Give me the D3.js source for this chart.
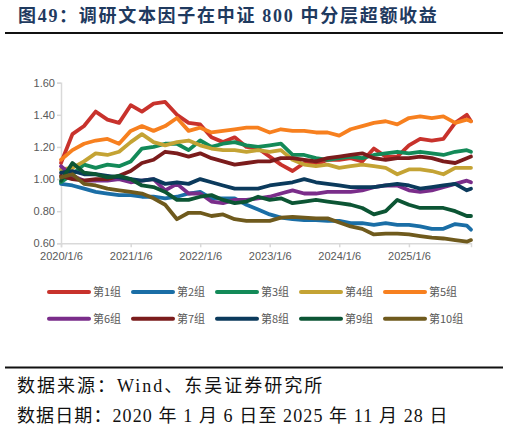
<!DOCTYPE html>
<html>
<head>
<meta charset="utf-8">
<script src="https://cdn.jsdelivr.net/npm/d3@7"></script>
<style>
  body { margin: 0; background: #fff; }
  svg { display: block; }
</style>
</head>
<body>
<svg id="chart" width="509" height="431"></svg>
<script>
// bi-monthly readings, last point is the end date
var dates = ["2020-01-06","2020-03-06","2020-05-06","2020-07-06","2020-09-06","2020-11-06",
  "2021-01-06","2021-03-06","2021-05-06","2021-07-06","2021-09-06","2021-11-06",
  "2022-01-06","2022-03-06","2022-05-06","2022-07-06","2022-09-06","2022-11-06",
  "2023-01-06","2023-03-06","2023-05-06","2023-07-06","2023-09-06","2023-11-06",
  "2024-01-06","2024-03-06","2024-05-06","2024-07-06","2024-09-06","2024-11-06",
  "2025-01-06","2025-03-06","2025-05-06","2025-07-06","2025-09-06","2025-11-06","2025-11-28"];

var groupNames = ["第1组","第2组","第3组","第4组","第5组","第6组","第7组","第8组","第9组","第10组"];
var groupColors = ["#c8322c","#1a6ea6","#138a58","#c4a334","#f7801f","#7a2d8a","#7b1c1c","#0b3a5c","#0c5534","#6f5a1d"];

var g1 = [1.10,1.28,1.33,1.42,1.37,1.35,1.46,1.42,1.47,1.48,1.40,1.35,1.34,1.26,1.23,1.26,1.20,1.19,
  1.14,1.09,1.05,1.10,1.09,1.12,1.12,1.13,1.11,1.19,1.14,1.14,1.21,1.25,1.24,1.25,1.35,1.40,1.36];
var g2 = [0.97,0.96,0.94,0.92,0.91,0.90,0.90,0.89,0.89,0.88,0.89,0.91,0.92,0.88,0.88,0.88,0.84,0.81,
  0.78,0.76,0.75,0.745,0.745,0.74,0.74,0.725,0.725,0.715,0.725,0.715,0.715,0.705,0.69,0.69,0.72,0.71,0.685];
var g3 = [0.98,1.03,1.09,1.07,1.09,1.08,1.11,1.19,1.20,1.22,1.22,1.18,1.24,1.20,1.22,1.23,1.21,1.20,
  1.21,1.22,1.15,1.15,1.13,1.12,1.13,1.14,1.13,1.15,1.16,1.17,1.16,1.17,1.16,1.15,1.17,1.18,1.17];
var g4 = [1.06,1.07,1.11,1.16,1.15,1.17,1.23,1.28,1.23,1.21,1.23,1.24,1.21,1.19,1.18,1.18,1.17,1.18,
  1.17,1.18,1.12,1.09,1.08,1.09,1.07,1.08,1.09,1.08,1.07,1.03,1.06,1.06,1.05,1.03,1.07,1.07,1.07];
var g5 = [1.12,1.18,1.22,1.24,1.25,1.22,1.30,1.33,1.30,1.33,1.38,1.30,1.32,1.29,1.30,1.31,1.32,1.32,
  1.29,1.31,1.30,1.30,1.29,1.29,1.27,1.31,1.33,1.35,1.36,1.34,1.38,1.39,1.38,1.39,1.35,1.37,1.36];
var g6 = [1.08,1.02,0.99,0.99,0.99,1.00,0.98,0.99,1.00,0.93,0.97,0.91,0.91,0.86,0.85,0.87,0.87,0.88,
  0.89,0.91,0.93,0.91,0.91,0.92,0.92,0.92,0.93,0.95,0.96,0.96,0.93,0.92,0.93,0.95,0.97,0.99,0.98];
var g7 = [1.02,1.00,0.99,1.00,1.00,1.02,1.05,1.10,1.12,1.17,1.16,1.14,1.16,1.13,1.11,1.09,1.10,1.11,
  1.11,1.13,1.13,1.12,1.11,1.13,1.14,1.15,1.16,1.13,1.12,1.13,1.13,1.14,1.13,1.11,1.10,1.13,1.14];
var g8 = [1.04,1.05,1.03,1.03,1.02,1.01,1.00,0.99,1.00,0.97,0.98,0.97,1.00,0.98,0.96,0.94,0.94,0.94,
  0.96,0.97,0.98,1.00,0.98,0.97,0.96,0.95,0.95,0.95,0.96,0.97,0.96,0.94,0.95,0.96,0.97,0.93,0.94];
var g9 = [0.99,1.10,1.04,1.03,1.01,1.02,1.00,0.96,0.95,0.92,0.87,0.87,0.89,0.90,0.87,0.85,0.86,0.89,
  0.87,0.88,0.85,0.86,0.87,0.86,0.85,0.84,0.82,0.78,0.80,0.87,0.84,0.82,0.82,0.82,0.80,0.77,0.77];
var g10 = [1.01,1.03,0.97,0.96,0.94,0.93,0.92,0.91,0.88,0.84,0.75,0.79,0.79,0.77,0.78,0.75,0.74,0.74,
  0.74,0.76,0.765,0.76,0.755,0.755,0.73,0.705,0.69,0.655,0.66,0.66,0.655,0.645,0.635,0.63,0.62,0.61,0.62];

var groupValues = [g1,g2,g3,g4,g5,g6,g7,g8,g9,g10];

var yTicks = [0.6,0.8,1.0,1.2,1.4,1.6];
var xTicks = ["2020-01-06","2021-01-06","2022-01-06","2023-01-06","2024-01-06","2025-01-06"];

var parse = d3.timeParse("%Y-%m-%d");
var svg = d3.select("#chart");

var x = d3.scaleTime()
  .domain([parse(dates[0]), parse(dates[dates.length-1])])
  .range([61, 471]);
var y = d3.scaleLinear().domain([0.6,1.6]).range([243.3,82.7]);

var fmtDate = function(d){ return d.getFullYear()+"/"+(d.getMonth()+1)+"/"+d.getDate(); };

// title + rules
svg.append("text").attr("x",18).attr("y",21.5)
  .attr("font-family","'Liberation Serif','Noto Sans CJK SC',serif")
  .attr("font-weight","bold").attr("font-size",18).attr("fill","#1f3a5f")
  .attr("letter-spacing",1.7)
  .text("图49：调研文本因子在中证 800 中分层超额收益");
svg.append("line").attr("x1",5).attr("x2",503).attr("y1",33).attr("y2",33)
  .attr("stroke","#111").attr("stroke-width",2.2);
svg.append("line").attr("x1",5).attr("x2",503).attr("y1",367.5).attr("y2",367.5)
  .attr("stroke","#111").attr("stroke-width",2.2);

// axes
var xAxis = svg.append("g").attr("transform","translate(0,243.3)")
  .call(d3.axisBottom(x).tickValues(xTicks.map(parse)).tickFormat(fmtDate).tickSize(4).tickPadding(5));
var yAxis = svg.append("g").attr("transform","translate(61,0)")
  .call(d3.axisLeft(y).tickValues(yTicks).tickFormat(d3.format(".2f")).tickSize(4).tickPadding(2));
[xAxis,yAxis].forEach(function(a){
  a.select(".domain").attr("stroke","#d9d9d9").attr("stroke-width",1.5);
  a.selectAll(".tick line").attr("stroke","#d9d9d9").attr("stroke-width",1.5);
  a.selectAll(".tick text").attr("fill","#595959").attr("font-size",11)
    .attr("font-family","'Liberation Sans','DejaVu Sans',sans-serif");
});

// lines
var line = d3.line()
  .x(function(d,i){ return x(parse(dates[i])); })
  .y(function(d){ return y(d); })
  .curve(d3.curveLinear);

svg.append("g").selectAll("path").data(groupValues).enter().append("path")
  .attr("d",line)
  .attr("fill","none")
  .attr("stroke",function(d,i){ return groupColors[i]; })
  .attr("stroke-width",3.8)
  .attr("stroke-linejoin","round")
  .attr("stroke-linecap","round");

// legend
var legend = svg.append("g").selectAll("g").data(groupNames).enter().append("g")
  .attr("transform",function(d,i){ return "translate("+(49+(i%5)*84)+","+(292+Math.floor(i/5)*26.7)+")"; });
legend.append("line").attr("x1",0).attr("x2",40).attr("y1",0).attr("y2",0)
  .attr("stroke",function(d,i){ return groupColors[i]; })
  .attr("stroke-width",4).attr("stroke-linecap","round");
legend.append("text").attr("x",44).attr("y",4)
  .attr("font-size",11).attr("fill","#595959")
  .attr("font-family","'Noto Sans CJK SC',sans-serif")
  .text(function(d){ return d; });

// footer
var foot = ["数据来源：Wind、东吴证券研究所","数据日期：2020 年 1 月 6 日至 2025 年 11 月 28 日"];
var footSpacing = [2, 1.1];
svg.append("g").selectAll("text").data(foot).enter().append("text")
  .attr("x",17).attr("y",function(d,i){ return 392+i*30; })
  .attr("font-size",18).attr("fill","#111")
  .attr("letter-spacing",function(d,i){ return footSpacing[i]; })
  .attr("font-family","'Liberation Serif','Noto Sans CJK SC',serif")
  .text(function(d){ return d; });
</script>
</body>
</html>
